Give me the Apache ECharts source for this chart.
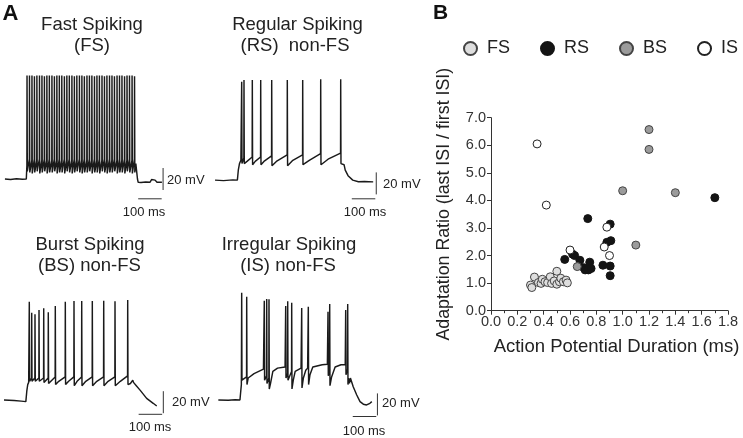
<!DOCTYPE html>
<html><head><meta charset="utf-8">
<script src="https://cdn.jsdelivr.net/npm/echarts@6/dist/echarts.min.js"></script>
<style>html,body{margin:0;padding:0;background:#fff}#c{width:743px;height:438px}</style>
</head><body><div id="c"></div>
<script>
// ---------- Panel B data (Action potential duration ms, adaptation ratio) ----------
const fsPoints = [[0.30,0.93],[0.31,0.84],[0.33,1.22],[0.36,1.02],[0.38,0.99],[0.39,1.14],[0.41,1.05],[0.43,1.02],[0.45,1.23],[0.46,0.99],[0.48,1.08],[0.50,1.43],[0.50,0.96],[0.52,1.05],[0.53,1.18],[0.55,1.05],[0.57,1.11],[0.58,1.01]];
const rsPoints = [[1.70,4.10],[0.735,3.34],[0.905,3.14],[0.91,2.54],[0.88,2.48],[0.56,1.86],[0.62,2.05],[0.635,2.00],[0.675,1.83],[0.705,1.56],[0.715,1.48],[0.74,1.48],[0.75,1.76],[0.76,1.53],[0.85,1.65],[0.905,1.62],[0.905,1.27]];
const bsPoints = [[1.20,6.57],[1.20,5.85],[1.00,4.35],[1.40,4.28],[1.10,2.38],[0.655,1.60]];
const isPoints = [[0.35,6.05],[0.42,3.83],[0.60,2.20],[0.86,2.31],[0.88,3.03],[0.90,2.00]];
const groupNames = ['FS','RS','BS','IS'];

// ---------- Panel A traces: time (ms), membrane potential (mV) ----------
// spikes: [time, peak, pre-spike level, after-hyperpolarisation level]
const fsRest = [[21,-70],[45,-70.4],[70,-69.8],[95,-70.3],[112,-70],[113.5,-62],[578,-56],[583,-57],[585,-70],[588,-73],[600,-73.2],[620,-72.8],[638,-73],[645,-70.5],[652,-72],[660,-71],[668,-73],[689,-73]];
const fsSpikes = [[115,24,-58,-63],[125.5,24,-52,-64],[136,24,-53,-65],[146.5,23.5,-52,-64],[157,24,-53,-63],[168,24,-52,-65],[178.5,24,-53,-64],[189,23.5,-52,-63],[199.5,24,-53,-65],[210,24,-52,-64],[221,24,-53,-64],[231.5,23.5,-52,-63],[242,24,-53,-65],[252.5,24,-52,-64],[263,24,-53,-64],[274,23.5,-52,-65],[284.5,24,-53,-63],[295,24,-52,-64],[306,24,-53,-65],[316.5,23.5,-52,-64],[327,24,-53,-63],[338,24,-52,-64],[348.5,24,-53,-65],[359,23.5,-52,-64],[370,24,-53,-64],[380.5,24,-52,-63],[391,24,-53,-65],[402,23.5,-52,-64],[412.5,24,-53,-64],[423,24,-52,-65],[434,24,-53,-63],[444.5,23.5,-52,-64],[455,24,-53,-65],[466,24,-52,-64],[476.5,24,-53,-64],[487,23.5,-52,-63],[498,24,-53,-65],[508.5,24,-52,-64],[519,24,-53,-64],[530,23.5,-52,-65],[540.5,24,-53,-63],[551,24,-52,-64],[562,24,-53,-65],[572.5,23.5,-52,-64]];

const rsRest = [[64,-71],[100,-71.5],[140,-70.8],[159,-71],[163,-62],[168,-56],[174,-53],[200,-54],[235,-54],[272,-54],[325,-54],[395,-53],[465,-53],[545,-52],[608,-55.5],[613,-57],[618,-62],[630,-67],[650,-71],[674,-72.5],[700,-72.3],[737,-72.6]];
const rsSpikes = [[177.4,18.5,-52.5,-56],[187.2,20,-51,-56],[222.6,20,-50,-57],[258.3,20,-50,-57],[305.1,20,-49,-58],[371.5,20,-48,-58],[437,20,-48,-57],[513.6,20.6,-47,-57],[598.7,20.6,-46.5,-56]];

const bsRest = [[17,-70],[60,-70.5],[90,-71],[110,-71.5],[114,-62],[118,-56],[122,-54],[250,-53],[292,-53],[328,-53],[365,-53],[412,-53],[460,-53],[512,-53],[555,-55],[565,-52],[568,-54],[572,-55],[575,-54],[580,-57],[596,-61],[624,-68.5],[652,-73],[667,-75.5]];
const bsSpikes = [[124.7,19.4,-54,-53],[134.9,9.4,-50,-53],[148.9,7.9,-50,-53],[166,11.8,-50,-53],[186,13.4,-50,-54],[205.5,9.7,-50,-55],[235.3,15.5,-49,-56],[277.9,19.4,-49,-56],[314.9,20,-49,-57],[347.7,20,-49,-57],[392.8,20,-49,-57],[441.3,20.3,-49,-57],[489.4,19.7,-49,-57],[543.4,20.9,-48,-56]];

const isRest = [[78,-70],[120,-70.3],[150,-69.8],[170,-70],[173,-63],[176,-56],[205,-50],[230,-46],[270,-42],[300,-55],[310,-44],[330,-41],[362,-40],[397,-52],[405,-44],[430,-41],[440,-50],[450,-43],[458,-41],[468,-47],[480,-40],[520,-38],[542,-37.5],[560,-49],[575,-40],[600,-38],[618,-38],[632,-50],[636,-55],[640,-50],[645,-49],[652,-58],[667,-65.5],[681,-71.5],[695,-73.8],[709,-74.5],[723,-73],[731,-71.5]];
const isSpikes = [[177.4,27.5,-55,-52],[198.7,23.9,-49,-56],[273.6,20.3,-42,-52],[283.8,21.8,-48,-55],[293.6,21.5,-50,-60],[364.7,15.5,-40,-50],[373.2,19.7,-46,-52],[390.2,18.5,-44,-60],[432.8,13.6,-41,-59],[460.9,14.8,-41,-56],[544.7,10.3,-37.5,-48],[551.9,17.3,-42,-57],[620,11.8,-38,-47],[628.5,17.3,-42,-56]];

// scale bars (100 ms, 20 mV) in trace units
const fsBarH = [[588,-88],[688,-88]], fsBarV = [[694,-60],[694,-80]];
const rsBarH = [[646,-88],[746,-88]], rsBarV = [[750,-64],[750,-84]];
const bsBarH = [[590,-83],[690,-83]], bsBarV = [[695,-62],[695,-82]];
const isBarH = [[650,-85],[750,-85]], isBarV = [[755,-64],[755,-84]];

function buildTrace(rest, spikes){
  const pts = rest.map(p => [p[0], p[1]]);
  spikes.forEach(s => { pts.push([s[0]-0.6, s[2]]); pts.push([s[0], s[1]]); pts.push([s[0]+1.2, s[3]]); });
  pts.sort((a,b) => a[0]-b[0]);
  return pts;
}

const FONT = '"Liberation Sans", Arial, sans-serif';
const traceColor = '#1a1a1a';
const chart = echarts.init(document.getElementById('c'));

const traceGrids = [
  {left:0, top:58, width:176.25, height:154},
  {left:200, top:58, width:199.75, height:154},
  {left:0, top:279, width:176.25, height:154},
  {left:200, top:279, width:199.75, height:154}
];
const xMax = [750, 850, 750, 850];
const grids = traceGrids.concat([{left:491, top:117.7, width:237, height:193}]);
const xAxes = xMax.map((m,i) => ({gridIndex:i, type:'value', min:0, max:m, show:false}));
const yAxes = xMax.map((m,i) => ({gridIndex:i, type:'value', min:-100, max:40, show:false}));

xAxes.push({
  gridIndex:4, type:'value', min:0, max:1.8, interval:0.2,
  name:'Action Potential Duration (ms)', nameLocation:'middle', nameGap:27,
  nameTextStyle:{fontSize:18.5, color:'#222', fontFamily:FONT, padding:[0,0,0,14]},
  axisLine:{show:true, onZero:false, lineStyle:{color:'#333', width:1}},
  axisTick:{show:true, length:4, lineStyle:{color:'#333'}},
  minorTick:{show:true, splitNumber:2, length:2.5, lineStyle:{color:'#333'}},
  axisLabel:{fontSize:14.5, color:'#333', margin:4, fontFamily:FONT, formatter:v => v.toFixed(1)},
  splitLine:{show:false}
});
yAxes.push({
  gridIndex:4, type:'value', min:0, max:7, interval:1,
  name:'Adaptation Ratio (last ISI / first ISI)', nameLocation:'middle', nameGap:38,
  nameTextStyle:{fontSize:17.8, color:'#222', fontFamily:FONT, padding:[0,0,0,20]},
  axisLine:{show:true, onZero:false, lineStyle:{color:'#333', width:1}},
  axisTick:{show:true, length:4, lineStyle:{color:'#333'}},
  axisLabel:{fontSize:14.5, color:'#333', margin:5, fontFamily:FONT, formatter:v => v.toFixed(1)},
  splitLine:{show:false}
});

const traces = [buildTrace(fsRest, fsSpikes), buildTrace(rsRest, rsSpikes), buildTrace(bsRest, bsSpikes), buildTrace(isRest, isSpikes)];
const bars = [[fsBarH, fsBarV],[rsBarH, rsBarV],[bsBarH, bsBarV],[isBarH, isBarV]];
const series = [];
traces.forEach((d,i) => {
  series.push({type:'line', xAxisIndex:i, yAxisIndex:i, data:d, symbol:'none', silent:true,
    lineStyle:{color:traceColor, width:1.45}, sampling:null});
  bars[i].forEach(b => series.push({type:'line', xAxisIndex:i, yAxisIndex:i, data:b, symbol:'none', silent:true,
    lineStyle:{color:'#333', width:1}}));
});
const scatterStyles = [
  {data:fsPoints, color:'#dedede', border:'#444'},
  {data:rsPoints, color:'#141414', border:'#141414'},
  {data:bsPoints, color:'#9b9b9b', border:'#444'},
  {data:isPoints, color:'#ffffff', border:'#222'}
];
scatterStyles.forEach((s,i) => series.push({
  type:'scatter', name:groupNames[i], xAxisIndex:4, yAxisIndex:4, data:s.data, symbolSize:8,
  itemStyle:{color:s.color, borderColor:s.border, borderWidth:1, opacity:1}
}));

function txt(text, x, y, size, opts){
  opts = opts || {};
  return {type:'text', silent:true, style:{text:text, x:x, y:y, fill:opts.fill || '#222',
    font:(opts.bold ? 'bold ' : '') + size + 'px ' + FONT,
    textAlign:opts.align || 'center', textVerticalAlign:'middle', verticalAlign:'middle'}};
}

chart.setOption({
  animation:false,
  backgroundColor:'#fff',
  textStyle:{fontFamily:FONT},
  grid:grids,
  xAxis:xAxes,
  yAxis:yAxes,
  legend:{data:groupNames, left:463, top:39.5, width:280, padding:0, itemWidth:13, itemHeight:13, itemGap:30, icon:'circle',
    textStyle:{fontSize:18, color:'#222', fontFamily:FONT, padding:[0,0,0,5]}},
  series:series,
  graphic:[
    txt('A', 10.5, 14, 22, {bold:true, fill:'#111'}),
    txt('B', 440.5, 13, 21, {bold:true, fill:'#111'}),
    txt('Fast Spiking', 92, 25, 18.5),
    txt('(FS)', 92, 46, 18.5),
    txt('Regular Spiking', 297.5, 25, 18.5),
    txt('(RS)  non-FS', 295, 46, 18.5),
    txt('Burst Spiking', 90, 245, 18.5),
    txt('(BS) non-FS', 89.5, 266, 18.5),
    txt('Irregular Spiking', 289, 245, 18.5),
    txt('(IS) non-FS', 288, 266, 18.5),
    txt('20 mV', 167, 180, 13, {align:'left'}),
    txt('100 ms', 144, 212, 13),
    txt('20 mV', 383, 184, 13, {align:'left'}),
    txt('100 ms', 365, 212, 13),
    txt('20 mV', 172, 402, 13, {align:'left'}),
    txt('100 ms', 150, 427, 13),
    txt('20 mV', 382, 403, 13, {align:'left'}),
    txt('100 ms', 364, 431, 13)
  ]
});
</script></body></html>
